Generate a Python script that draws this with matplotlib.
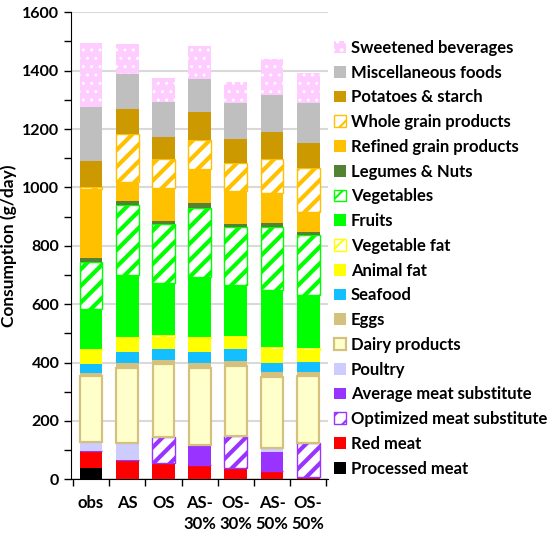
import matplotlib
matplotlib.use("Agg")
import matplotlib.pyplot as plt
import numpy as np
from matplotlib.ticker import MultipleLocator, FixedLocator

plt.rcParams["font.family"] = ["Lato", "DejaVu Sans"]
plt.rcParams["font.weight"] = "bold"

scenarios = ["obs", "AS", "OS", "AS-\n30%", "OS-\n30%", "AS-\n50%", "OS-\n50%"]

# bottom to top of the stack (g/day)
processed_meat = [38, 0, 0, 0, 0, 0, 0]
red_meat = [60, 65, 55, 49, 40, 30, 9]
optimized_sub = [0, 0, 91, 0, 108, 0, 116]
average_sub = [0, 0, 0, 65, 0, 65, 0]
poultry = [31, 58, 0, 4, 0, 11, 0]
dairy = [226, 257, 248, 262, 241, 246, 229]
eggs = [8, 17, 15, 17, 16, 17, 15]
seafood = [31, 40, 37, 40, 40, 31, 34]
animal_fat = [48, 47, 43, 47, 42, 47, 41]
vegetable_fat = [3, 5, 5, 5, 5, 5, 5]
fruits = [137, 211, 177, 205, 174, 197, 182]
vegetables = [163, 240, 203, 234, 197, 216, 206]
legumes_nuts = [14, 13, 11, 18, 12, 14, 11]
refined_grain = [236, 67, 112, 116, 114, 101, 69]
whole_grain = [8, 163, 99, 100, 96, 116, 151]
potatoes = [87, 86, 78, 97, 81, 95, 85]
misc_foods = [185, 119, 120, 112, 122, 126, 137]
sweet_bev = [220, 103, 82, 113, 72, 122, 101]

# (label, values, color, style)
layers = [
    ("Processed meat", processed_meat, "#000000", "solid"),
    ("Red meat", red_meat, "#FF0000", "solid"),
    ("Optimized meat substitute", optimized_sub, "#9933FF", "hatch"),
    ("Average meat substitute", average_sub, "#9933FF", "solid"),
    ("Poultry", poultry, "#CCCCFF", "solid"),
    ("Dairy products", dairy, "#FFFFCC", "dairy"),
    ("Eggs", eggs, "#D4C17E", "solid"),
    ("Seafood", seafood, "#14BEFF", "solid"),
    ("Animal fat", animal_fat, "#FFFF00", "solid"),
    ("Vegetable fat", vegetable_fat, "#FFFF00", "hatch"),
    ("Fruits", fruits, "#00FF00", "solid"),
    ("Vegetables", vegetables, "#00FF00", "hatch"),
    ("Legumes & Nuts", legumes_nuts, "#548235", "solid"),
    ("Refined grain products", refined_grain, "#FFC000", "solid"),
    ("Whole grain products", whole_grain, "#FFC000", "hatch"),
    ("Potatoes & starch", potatoes, "#CC9900", "solid"),
    ("Miscellaneous foods", misc_foods, "#BFBFBF", "solid"),
    ("Sweetened beverages", sweet_bev, "#FFCCFF", "dots"),
]

fig = plt.figure(figsize=(5.6, 5.35), dpi=100)
ax = fig.add_axes([0.127, 0.104, 0.459, 0.873])

x = np.arange(len(scenarios))
width = 0.63
bottom = np.zeros(len(scenarios))
handles = []
for label, vals, color, style in layers:
    vals = np.array(vals, dtype=float)
    if style == "hatch":
        plt.rcParams["hatch.linewidth"] = 3.0
        b = ax.bar(x, vals, width, bottom=bottom, facecolor="white",
                   edgecolor=color, hatch="//", linewidth=1, label=label, zorder=3)
    elif style == "dots":
        plt.rcParams["hatch.linewidth"] = 1.0
        b = ax.bar(x, vals, width, bottom=bottom, facecolor=color,
                   edgecolor="white", hatch="..", linewidth=0, label=label, zorder=3)
    elif style == "dairy":
        b = ax.bar(x, vals, width - 0.03, bottom=bottom, facecolor=color,
                   edgecolor="#D4C17E", linewidth=1.6, label=label, zorder=3)
    else:
        b = ax.bar(x, vals, width, bottom=bottom, color=color,
                   linewidth=0, label=label, zorder=3)
    handles.append(b)
    bottom += vals

ax.set_ylim(0, 1600)
ax.set_xlim(-0.55, len(scenarios) - 0.45)
ax.yaxis.set_major_locator(MultipleLocator(200))
ax.yaxis.set_minor_locator(MultipleLocator(100))
ax.grid(axis="y", which="major", color="#D9D9D9", linewidth=1.5, zorder=0)
ax.set_axisbelow(True)

ax.set_xticks(x)
ax.set_xticklabels(scenarios, fontsize=12, fontweight="bold", linespacing=1.45)
ax.xaxis.set_minor_locator(FixedLocator(np.arange(-0.5, len(scenarios), 1.0)))
ax.tick_params(axis="x", which="major", length=0, pad=11)
ax.tick_params(axis="x", which="minor", length=5, width=1, direction="out")
ax.tick_params(axis="y", which="both", length=5, width=1, direction="out")
ax.tick_params(axis="y", labelsize=11.5)
for t in ax.get_yticklabels():
    t.set_fontweight("bold")

ax.spines["top"].set_visible(False)
ax.spines["right"].set_visible(False)
ax.set_ylabel("Consumption (g/day)", fontsize=12.5, fontweight="bold")

plt.rcParams["hatch.linewidth"] = 1.5
fig.legend(handles[::-1], [h.get_label() for h in handles[::-1]],
           loc="upper left", bbox_to_anchor=(0.585, 0.938), frameon=False,
           prop={"size": 12, "weight": "bold"}, handlelength=0.7,
           handleheight=0.7, handletextpad=0.3, labelspacing=0.525,
           borderaxespad=0)

fig.savefig("out.png", dpi=100)
